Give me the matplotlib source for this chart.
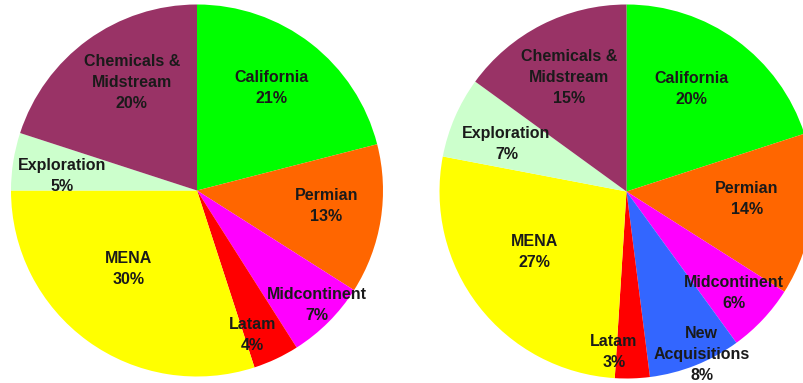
import matplotlib.pyplot as plt
import numpy as np

plt.rcParams['font.family'] = ['Liberation Sans', 'DejaVu Sans']

# left pie
left_labels = ["California", "Permian", "Midcontinent", "Latam", "MENA",
               "Exploration", "Chemicals &\nMidstream"]
left_values = [21, 13, 7, 4, 30, 5, 20]
left_colors = ["#00FF00", "#FF6600", "#FF00FF", "#FF0000", "#FFFF00",
               "#CCFFCC", "#993366"]

# right pie
right_labels = ["California", "Permian", "Midcontinent", "New\nAcquisitions",
                "Latam", "MENA", "Exploration", "Chemicals &\nMidstream"]
right_values = [20, 14, 6, 8, 3, 27, 7, 15]
right_colors = ["#00FF00", "#FF6600", "#FF00FF", "#3366FF", "#FF0000",
                "#FFFF00", "#CCFFCC", "#993366"]

# label placement: radius fraction and angle nudge (deg) per wedge
left_r = [0.68, 0.70, 0.89, 0.83, 0.56, 0.73, 0.68]
left_dt = [1.8, 2.0, 1.2, -4.2, -5.0, 2.7, -5.0]
right_r = [0.65, 0.645, 0.79, 0.96, 0.86, 0.59, 0.69, 0.685]
right_dt = [3.8, 3.6, -0.2, 3.2, -6.3, -4.6, 1.9, -0.3]

W, H = 804, 383
fig = plt.figure(figsize=(W / 100, H / 100), dpi=100)


def draw_pie(cx, cy, R, labels, values, colors, rfrac, dtheta):
    ax = fig.add_axes([(cx - R) / W, (H - cy - R) / H, 2 * R / W, 2 * R / H])
    wedges, _ = ax.pie(values, colors=colors, startangle=90, counterclock=False,
                       wedgeprops=dict(linewidth=0))
    ax.set_xlim(-1, 1)
    ax.set_ylim(-1, 1)
    ax.set_aspect('equal')
    ax.axis('off')
    for w, lab, v, r, dt in zip(wedges, labels, values, rfrac, dtheta):
        mid = np.deg2rad((w.theta1 + w.theta2) / 2 + dt)
        ax.text(r * np.cos(mid), r * np.sin(mid), f"{lab}\n{v}%",
                ha='center', va='center', fontsize=11.5, fontweight='bold',
                color='#1a1a1a', linespacing=1.5)


draw_pie(197, 190.5, 186, left_labels, left_values, left_colors, left_r, left_dt)
draw_pie(626.5, 191.5, 187, right_labels, right_values, right_colors, right_r, right_dt)

fig.savefig("out.png", dpi=100)
